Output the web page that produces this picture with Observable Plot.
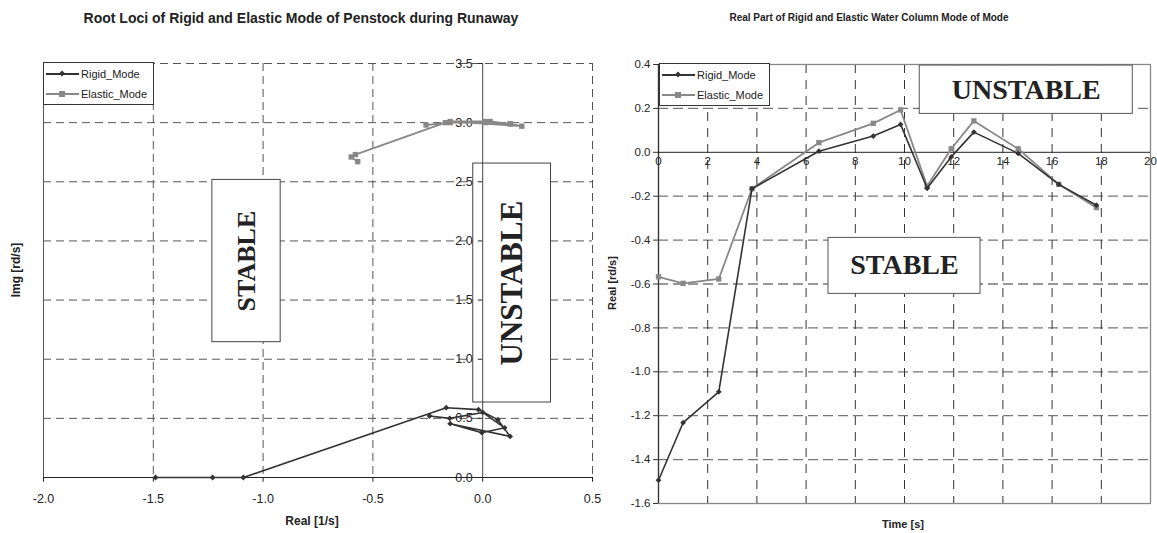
<!DOCTYPE html>
<html><head><meta charset="utf-8">
<script src="https://cdn.jsdelivr.net/npm/d3@7"></script>
<script src="https://cdn.jsdelivr.net/npm/@observablehq/plot@0.6"></script>
<style>
html,body{margin:0;padding:0;background:#fff;}
body{width:1157px;height:533px;overflow:hidden;position:relative;font-family:"Liberation Sans",Arial,sans-serif;color:#222;}
.abs{position:absolute;}
.title{font-weight:bold;white-space:nowrap;transform:translateX(-50%);}
.axlab{font-weight:bold;white-space:nowrap;transform:translate(-50%,-50%);}
.rot{transform:translate(-50%,-50%) rotate(-90deg);}
.legend{border:1px solid #333;background:#fff;box-sizing:border-box;font-size:11px;}
.legend .row{display:flex;align-items:center;height:20px;}
.legend svg{display:block;}
svg.chart{position:absolute;top:0;}
</style></head><body>
<script>
// ---------- data ----------
// Left: root loci (real part [1/s], imaginary part [rd/s])
const leftRigidRe   = [-1.49, -1.23, -1.09, -0.166, -0.019, 0.069, 0.125, -0.148, -0.004, 0.10, 0.0, -0.15, -0.242];
const leftRigidIm   = [0, 0, 0, 0.59, 0.574, 0.489, 0.347, 0.455, 0.379, 0.42, 0.55, 0.50, 0.52];
const leftElasticRe = [-0.569, -0.599, -0.58, -0.17, 0.034, 0.125, 0.178, -0.148, 0.011, 0.125, 0.011, -0.148, -0.258];
const leftElasticIm = [2.67, 2.71, 2.73, 3.00, 3.01, 2.99, 2.97, 3.01, 3.01, 2.99, 3.00, 3.00, 2.98];
// Right: real part vs time
const timeS       = [0, 1.0, 2.45, 3.8, 6.52, 8.73, 9.84, 10.92, 11.9, 12.82, 14.62, 16.27, 17.8];
const rigidReal   = [-1.494, -1.232, -1.091, -0.166, 0.005, 0.074, 0.127, -0.164, -0.021, 0.092, -0.005, -0.146, -0.241];
const elasticReal = [-0.567, -0.597, -0.577, -0.166, 0.044, 0.132, 0.193, -0.154, 0.016, 0.143, 0.016, -0.146, -0.252];
// ticks
const leftXTicks  = [-2.0, -1.5, -1.0, -0.5, 0.0, 0.5];
const leftYTicks  = [0.0, 0.5, 1.0, 1.5, 2.0, 2.5, 3.0, 3.5];
const rightXTicks = [0, 2, 4, 6, 8, 10, 12, 14, 16, 18, 20];
const rightYTicks = [0.4, 0.2, 0.0, -0.2, -0.4, -0.6, -0.8, -1.0, -1.2, -1.4, -1.6];
const seriesNames = ["Rigid_Mode", "Elastic_Mode"];
const leftTitle  = "Root Loci of Rigid and Elastic Mode of Penstock during Runaway";
const rightTitle = "Real Part of Rigid and Elastic Water Column Mode of Mode";

const RIGID = "#333333", ELASTIC = "#888888";
const font = "Liberation Sans, Arial, sans-serif";
const serif = "Liberation Serif, Times New Roman, serif";

const leftRigid   = leftRigidRe.map((x, i) => ({x, y: leftRigidIm[i]}));
const leftElastic = leftElasticRe.map((x, i) => ({x, y: leftElasticIm[i]}));
const rightRigid   = timeS.map((t, i) => ({x: t, y: rigidReal[i]}));
const rightElastic = timeS.map((t, i) => ({x: t, y: elasticReal[i]}));

// ---------- left chart ----------
const L = Plot.plot({
  width: 600, height: 533,
  marginLeft: 43, marginRight: 8, marginTop: 63, marginBottom: 56,
  x: {domain: [-2, 0.5], axis: null},
  y: {domain: [0, 3.5], axis: null},
  style: {background: "transparent", fontFamily: font, overflow: "visible"},
  marks: [
    Plot.ruleY(leftYTicks.filter(v => v > 0), {y: d => d, stroke: "#555", strokeDasharray: "8,5"}),
    Plot.ruleX(leftXTicks.filter(v => v !== 0 && v !== -2), {x: d => d, stroke: "#555", strokeDasharray: "8,5"}),
    Plot.ruleX([-2], {x: d => d, stroke: "#555"}),
    Plot.rect([{label: "STABLE"}], {x1: -1.231, x2: -0.92, y1: 1.144, y2: 2.516, fill: "white", stroke: "#444"}),
    Plot.rect([{label: "UNSTABLE"}], {x1: -0.043, x2: 0.311, y1: 0.634, y2: 2.654, fill: "white", stroke: "#444"}),
    Plot.ruleX([0], {x: d => d, stroke: "#444"}),
    Plot.ruleY([0], {y: d => d, stroke: "#222"}),
    Plot.ruleX(leftXTicks, {x: d => d, y1: 0, y2: -0.04, stroke: "#222"}),
    Plot.ruleY(leftYTicks, {y: d => d, x1: -0.02, x2: 0, stroke: "#222"}),
    Plot.text(leftXTicks, {x: d => d, y: 0, dy: 21, text: d => d.toFixed(1), fontSize: 12.5, fill: "#222"}),
    Plot.text(leftYTicks, {x: 0, y: d => d, dx: -10, text: d => d.toFixed(1), textAnchor: "end", fontSize: 12.5, fill: "#222"}),
    Plot.text(["STABLE"], {x: (-1.231 - 0.92) / 2, y: (1.144 + 2.516) / 2, text: d => d, rotate: -90, fontFamily: serif, fontWeight: "bold", fontSize: 26, fill: "#222"}),
    Plot.text(["UNSTABLE"], {x: (-0.043 + 0.311) / 2, y: (0.634 + 2.654) / 2, text: d => d, rotate: -90, fontFamily: serif, fontWeight: "bold", fontSize: 31, fill: "#222"}),
    Plot.line(leftElastic, {x: "x", y: "y", stroke: ELASTIC, strokeWidth: 1.8}),
    Plot.dot(leftElastic, {x: "x", y: "y", symbol: "square", r: 3, fill: ELASTIC}),
    Plot.line(leftRigid, {x: "x", y: "y", stroke: RIGID, strokeWidth: 1.6}),
    Plot.dot(leftRigid, {x: "x", y: "y", symbol: "diamond2", r: 2.6, fill: RIGID})
  ]
});
L.classList.add("chart");
L.style.left = "0px";
document.body.appendChild(L);

// ---------- right chart ----------
const R = Plot.plot({
  width: 557, height: 533,
  marginLeft: 58, marginRight: 7, marginTop: 64, marginBottom: 30,
  x: {domain: [0, 20], axis: null},
  y: {domain: [-1.6, 0.4], axis: null},
  style: {background: "transparent", fontFamily: font, overflow: "visible"},
  marks: [
    Plot.ruleY(rightYTicks.filter(v => v !== 0 && v !== 0.4 && v !== -1.6), {y: d => d, stroke: "#777", strokeDasharray: "10,5", strokeWidth: 1.3}),
    Plot.ruleX(rightXTicks.filter(v => v > 0 && v < 20), {x: d => d, stroke: "#333", strokeDasharray: "9,7"}),
    Plot.frame({stroke: "#888", strokeWidth: 1.3}),
    Plot.ruleX([0], {x: d => d, stroke: "#333", strokeWidth: 1.2}),
    Plot.ruleY([0], {y: d => d, stroke: "#222"}),
    Plot.ruleY(rightYTicks, {y: d => d, x1: -0.2, x2: 0, stroke: "#333"}),
    Plot.rect([{label: "UNSTABLE"}], {x1: 10.62, x2: 19.28, y1: 0.175, y2: 0.395, fill: "white", stroke: "#555"}),
    Plot.rect([{label: "STABLE"}], {x1: 6.91, x2: 13.09, y1: -0.645, y2: -0.39, fill: "white", stroke: "#555"}),
    Plot.text(["UNSTABLE"], {x: (10.62 + 19.28) / 2, y: 0.285, text: d => d, fontFamily: serif, fontWeight: "bold", fontSize: 28, fill: "#222"}),
    Plot.text(["STABLE"], {x: 10, y: -0.515, text: d => d, fontFamily: serif, fontWeight: "bold", fontSize: 28, fill: "#222"}),
    Plot.text(rightXTicks, {x: d => d, y: 0, dy: 9, text: d => String(d), fontSize: 11.5, fill: "#222"}),
    Plot.text(rightYTicks, {x: 0, y: d => d, dx: -8, text: d => d.toFixed(1), textAnchor: "end", fontSize: 11.5, fill: "#222"}),
    Plot.line(rightElastic, {x: "x", y: "y", stroke: ELASTIC, strokeWidth: 1.8}),
    Plot.dot(rightElastic, {x: "x", y: "y", symbol: "square", r: 3, fill: ELASTIC}),
    Plot.line(rightRigid, {x: "x", y: "y", stroke: RIGID, strokeWidth: 1.6}),
    Plot.dot(rightRigid, {x: "x", y: "y", symbol: "diamond2", r: 2.6, fill: RIGID})
  ]
});
R.classList.add("chart");
R.style.left = "600px";
document.body.appendChild(R);

// ---------- titles, axis labels, legends ----------
function addDiv(cls, text, left, top, size) {
  const d = document.createElement("div");
  d.className = "abs " + cls;
  d.textContent = text;
  d.style.left = left + "px";
  d.style.top = top + "px";
  d.style.fontSize = size + "px";
  document.body.appendChild(d);
  return d;
}
addDiv("title", leftTitle, 301, 10, 14);
addDiv("title", rightTitle, 869, 12, 10);
addDiv("axlab", "Real [1/s]", 312, 521, 12);
addDiv("axlab rot", "Img [rd/s]", 16, 270, 12);
addDiv("axlab", "Time [s]", 903, 524, 11);
addDiv("axlab rot", "Real [rd/s]", 612, 283, 11);

function legend(left, top) {
  const box = document.createElement("div");
  box.className = "abs legend";
  box.style.left = left + "px";
  box.style.top = top + "px";
  box.style.width = "111px";
  box.style.height = "43px";
  box.style.paddingTop = "1px";
  const specs = [{name: seriesNames[0], color: RIGID, sym: "diamond"}, {name: seriesNames[1], color: ELASTIC, sym: "square"}];
  for (const s of specs) {
    const row = document.createElement("div");
    row.className = "row";
    const marker = s.sym === "diamond"
      ? `<path d="M18,6.5 L21,9.5 L18,12.5 L15,9.5 Z" fill="${s.color}"/>`
      : `<rect x="15" y="7" width="6" height="6" fill="${s.color}"/>`;
    row.innerHTML = `<svg width="37" height="20"><line x1="2" x2="35" y1="10" y2="10" stroke="${s.color}" stroke-width="1.8"/>${marker}</svg><span>${s.name}</span>`;
    box.appendChild(row);
  }
  document.body.appendChild(box);
}
legend(43, 62);
legend(659, 63);
</script>
</body></html>
